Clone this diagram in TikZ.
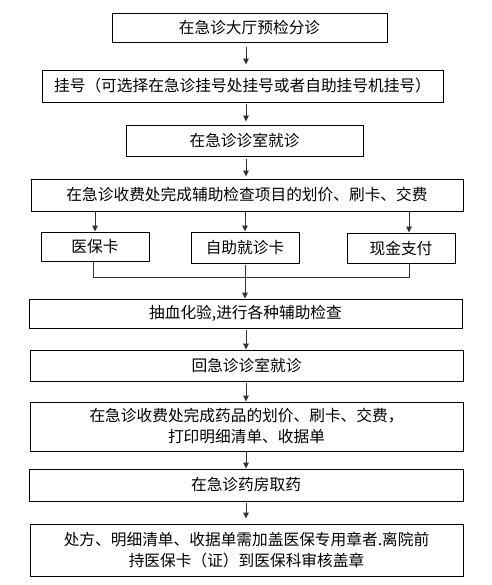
\documentclass[tikz,border=0pt]{standalone}
\usepackage{fontspec}
\setmainfont{Noto Sans CJK SC}
\usepackage{tikz}
\usetikzlibrary{arrows.meta, calc}

\begin{document}
\begin{tikzpicture}[x=1pt, y=-1pt, >={Triangle[length=6pt, width=5.5pt]},
    stepbox/.style={draw, line width=0.9pt, inner sep=0pt, align=center,
        font=\fontsize{15.7}{21}\selectfont},
    flow/.style={->, line width=0.9pt, draw=black!80},
    link/.style={line width=0.9pt, draw=black!80}]
    % --- page ---
    \useasboundingbox (0,0) rectangle (491,585);
    \fill[white] (0,0) rectangle (491,585);
    \coordinate (spine) at (246,0);

    % --- main steps ---
    \node[stepbox, minimum width=275pt, minimum height=29pt] (hall) at (249.5,27.5) {在急诊大厅预检分诊};
    \node[stepbox, minimum width=401pt, minimum height=32pt] (reg) at (242.5,86) {挂号（可选择在急诊挂号处挂号或者自助挂号机挂号）};
    \node[stepbox, minimum width=237pt, minimum height=31pt] (room) at (244.5,140.5) {在急诊诊室就诊};
    \node[stepbox, minimum width=432pt, minimum height=32pt] (pay) at (247,195) {在急诊收费处完成辅助检查项目的划价、刷卡、交费};

    % --- ways to pay ---
    \node[stepbox, minimum width=108pt, minimum height=29pt] (ins) at (95,246.5) {医保卡};
    \node[stepbox, minimum width=108pt, minimum height=31pt] (self) at (245,247.5) {自助就诊卡};
    \node[stepbox, minimum width=108pt, minimum height=30pt] (cash) at (401,248) {现金支付};
    \coordinate (joinL) at (93,277);
    \coordinate (joinR) at (409,277);

    % --- after payment ---
    \node[stepbox, minimum width=433pt, minimum height=29pt] (lab) at (245.5,313.5) {抽血化验,进行各种辅助检查};
    \node[stepbox, minimum width=433pt, minimum height=31pt] (back) at (246.5,365.5) {回急诊诊室就诊};
    \node[stepbox, minimum width=433pt, minimum height=49pt] (drug) at (246.5,426.5) {在急诊收费处完成药品的划价、刷卡、交费，\\打印明细清单、收据单};
    \node[stepbox, minimum width=434pt, minimum height=32pt] (pharm) at (246,485) {在急诊药房取药};
    \node[stepbox, minimum width=433pt, minimum height=52pt] (stamp) at (246.5,550) {处方、明细清单、收据单需加盖医保专用章者.离院前\\持医保卡（证）到医保科审核盖章};

    % --- arrows ---
    \draw[flow, shorten <=5pt, shorten >=5pt] (hall.south -| spine) -- (reg.north -| spine);
    \draw[flow, shorten <=2pt, shorten >=3pt] (reg.south -| spine) -- (room.north -| spine);
    \draw[flow, shorten <=3pt, shorten >=2pt] (room.south -| spine) -- (pay.north -| spine);
    \draw[flow, shorten <=1pt] (pay.south -| ins) -- (ins.north);
    \draw[flow, shorten <=1pt] (pay.south -| self) -- (self.north);
    \draw[flow, shorten <=1pt] (pay.south -| joinR) -- (cash.north -| joinR);
    \draw[link] (ins.south -| joinL) -- (joinL) -- (joinR) -- (cash.south -| joinR);
    \draw[flow, shorten <=2pt] (self.south) -- (lab.north -| self);
    \draw[flow, shorten <=2pt] (lab.south -| spine) -- (back.north -| spine);
    \draw[flow, shorten <=2pt] (back.south -| spine) -- (drug.north -| spine);
    \draw[flow] (drug.south -| spine) -- (pharm.north -| spine);
    \draw[flow, shorten <=2pt, shorten >=5pt] (pharm.south -| spine) -- (stamp.north -| spine);
\end{tikzpicture}
\end{document}
